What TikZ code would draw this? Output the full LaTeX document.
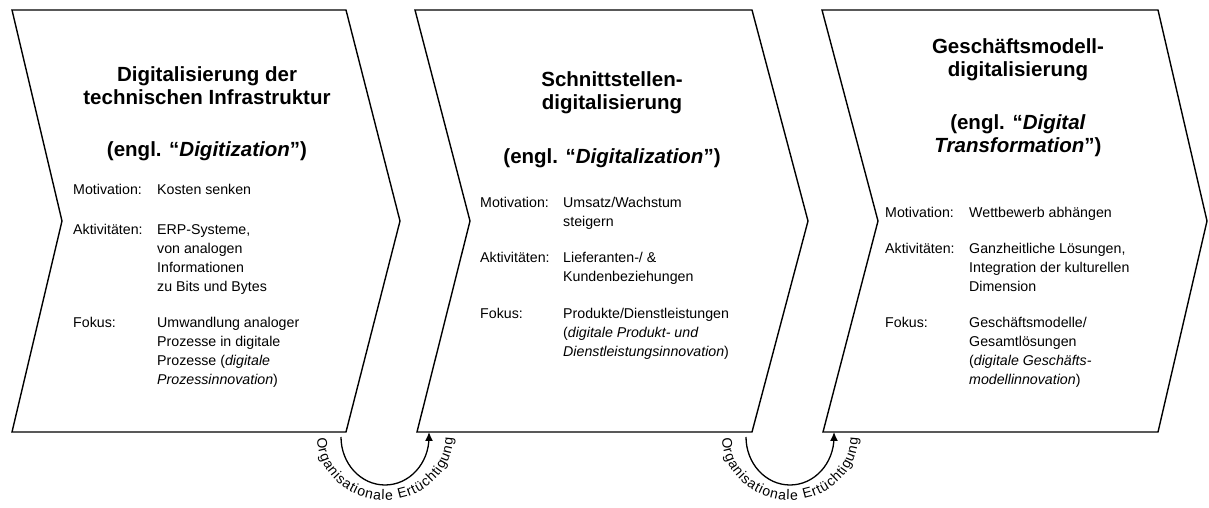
\documentclass[tikz,border=0pt]{standalone}
\usepackage{fontspec}
\setmainfont{Liberation Sans}
\usetikzlibrary{arrows.meta,decorations.text}
\begin{document}
\begin{tikzpicture}[x=1pt,y=1pt,
  chev/.style={draw=black,line width=1.4pt,line join=miter,fill=white},
  ttl/.style={anchor=base,inner sep=0pt,font=\fontsize{20.5}{24}\selectfont\bfseries},
  lab/.style={anchor=base west,inner sep=0pt,font=\fontsize{14.2}{19}\selectfont},
  loop/.style={line width=1.3pt,-{Latex[length=9pt,width=8pt]}},
  arctext/.style={decorate,decoration={text along path,text align=fit to path,
     text={|\fontsize{14}{14}\selectfont|Organisationale Ertüchtigung}}}
  ]
\useasboundingbox (0,0) rectangle (1209,508);
% chevrons
\draw[chev] (12,498) -- (346,498) -- (400,287) -- (346,76) coordinate (c1br) -- (12,76) -- (62,287) -- cycle;
\draw[chev] (415,498) -- (752,498) -- (808,287) -- (752,76) coordinate (c2br) -- (417,76) coordinate (c2bl) -- (470,287) -- cycle;
\draw[chev] (822,498) -- (1158,498) -- (1207,287) -- (1158,76) -- (823,76) coordinate (c3bl) -- (878,287) -- cycle;

% chevron 1 text
\node[ttl] (t1a) at (207,426) {Digitalisierung der};
\node[ttl] (t1b) at (207,403) {technischen Infrastruktur};
\node[ttl] (t1c) at (207,351) {(engl. “\textit{Digitization}”)};
\node[lab] (m1) at (73,313) {Motivation:};
\node[lab] (m1v) at (157,313) {Kosten senken};
\node[lab] (a1) at (73,273) {Aktivitäten:};
\node[lab] (a1v1) at (157,273) {ERP-Systeme,};
\node[lab] (a1v2) at (157,254) {von analogen};
\node[lab] (a1v3) at (157,235) {Informationen};
\node[lab] (a1v4) at (157,216) {zu Bits und Bytes};
\node[lab] (f1) at (73,180) {Fokus:};
\node[lab] (f1v1) at (157,180) {Umwandlung analoger};
\node[lab] (f1v2) at (157,161) {Prozesse in digitale};
\node[lab] (f1v3) at (157,142) {Prozesse (\textit{digitale}};
\node[lab] (f1v4) at (157,123) {\textit{Prozessinnovation})};

% chevron 2 text
\node[ttl] (t2a) at (612,421) {Schnittstellen-};
\node[ttl] (t2b) at (612,398) {digitalisierung};
\node[ttl] (t2c) at (612,344) {(engl. “\textit{Digitalization}”)};
\node[lab] (m2) at (480,300) {Motivation:};
\node[lab] (m2v1) at (563,300) {Umsatz/Wachstum};
\node[lab] (m2v2) at (563,281) {steigern};
\node[lab] (a2) at (480,245) {Aktivitäten:};
\node[lab] (a2v1) at (563,245) {Lieferanten-/ \&};
\node[lab] (a2v2) at (563,226) {Kundenbeziehungen};
\node[lab] (f2) at (480,189) {Fokus:};
\node[lab] (f2v1) at (563,189) {Produkte/Dienstleistungen};
\node[lab] (f2v2) at (563,170) {(\textit{digitale Produkt- und}};
\node[lab] (f2v3) at (563,151) {\textit{Dienstleistungsinnovation})};

% chevron 3 text
\node[ttl] (t3a) at (1018,454) {Geschäftsmodell-};
\node[ttl] (t3b) at (1018,431) {digitalisierung};
\node[ttl] (t3c) at (1018,378) {(engl. “\textit{Digital}};
\node[ttl] (t3d) at (1018,355) {\textit{Transformation}”)};
\node[lab] (m3) at (885,290) {Motivation:};
\node[lab] (m3v) at (969,290) {Wettbewerb abhängen};
\node[lab] (a3) at (885,254) {Aktivitäten:};
\node[lab] (a3v1) at (969,254) {Ganzheitliche Lösungen,};
\node[lab] (a3v2) at (969,235) {Integration der kulturellen};
\node[lab] (a3v3) at (969,216) {Dimension};
\node[lab] (f3) at (885,180) {Fokus:};
\node[lab] (f3v1) at (969,180) {Geschäftsmodelle/};
\node[lab] (f3v2) at (969,161) {Gesamtlösungen};
\node[lab] (f3v3) at (969,142) {(\textit{digitale Geschäfts-}};
\node[lab] (f3v4) at (969,123) {\textit{modellinnovation})};

% loops
\coordinate (l1s) at (341,71);
\coordinate (l2s) at (746,71);
\draw[loop] (l1s) arc[start angle=180,end angle=360,x radius=44,y radius=48] -- (c2bl -| 429,76);
\draw[loop] (l2s) arc[start angle=180,end angle=360,x radius=44,y radius=48] -- (c3bl -| 834,76);
\path[arctext] (385,71) ++(181:68 and 63) arc[start angle=181,end angle=359,x radius=68,y radius=63];
\path[arctext] (790,71) ++(181:68 and 63) arc[start angle=181,end angle=359,x radius=68,y radius=63];
\end{tikzpicture}
\end{document}
